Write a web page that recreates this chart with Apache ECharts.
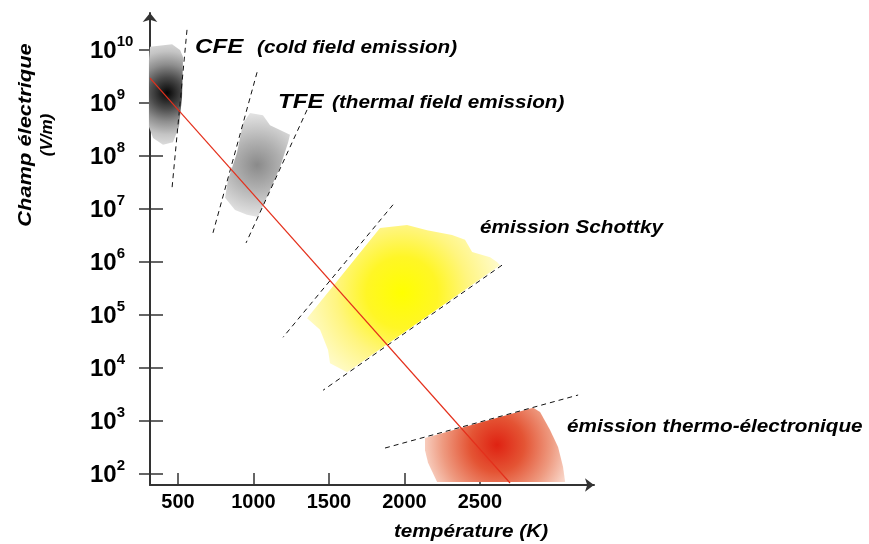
<!DOCTYPE html>
<html>
<head>
<meta charset="utf-8">
<script src="https://cdn.jsdelivr.net/npm/echarts@6/dist/echarts.min.js"></script>
<style>
  html, body { margin: 0; padding: 0; background: #fff; }
  #chart { width: 869px; height: 544px; }
</style>
</head>
<body>
<div id="chart"></div>
<script>
// axes: temperature (K) and log10 of the electric field (V/m)
const temperatureTicks = [500, 1000, 1500, 2000, 2500];
const fieldExponents = [2, 3, 4, 5, 6, 7, 8, 9, 10];

// emission regions, points are [temperature, log10(E)]
const cfeOutline = [[315, 10.06], [461, 10.11], [514, 10.0], [534, 9.87], [527, 9.11], [507, 8.55], [467, 8.26], [401, 8.21], [335, 8.34], [308, 8.55], [308, 9.8]];
const cfeCenter = [428, 9.19];
const tfeOutline = [[977, 8.81], [1063, 8.77], [1110, 8.58], [1242, 8.40], [1229, 8.25], [1176, 7.79], [1090, 7.23], [1030, 6.85], [957, 6.89], [878, 6.98], [812, 7.21], [832, 7.55], [891, 8.06], [931, 8.62]];
const tfeCenter = [1024, 7.83];
const schottkyOutline = [[1838, 6.64], [2017, 6.70], [2150, 6.60], [2315, 6.51], [2401, 6.42], [2448, 6.19], [2567, 6.09], [2613, 6.00], [2633, 5.94], [1620, 3.92], [1507, 4.09], [1494, 4.34], [1441, 4.72], [1355, 4.94]];
const schottkyCenter = [1984, 5.42];
const thermoOutline = [[2136, 2.68], [2852, 3.25], [2898, 3.17], [2964, 2.83], [3017, 2.51], [3050, 2.13], [3064, 1.85], [2216, 1.85], [2156, 2.21], [2136, 2.45]];
const thermoCenter = [2613, 2.55];

// dashed boundaries
const cfeGuide = [[560, 10.38], [461, 7.40]];
const tfeGuideLeft = [[1024, 9.58], [732, 6.55]];
const tfeGuideRight = [[1355, 8.87], [951, 6.36]];
const schottkyGuideTop = [[1924, 7.08], [1196, 4.58]];
const schottkyGuideBottom = [[2646, 5.94], [1461, 3.58]];
const thermoGuide = [[1871, 2.49], [3150, 3.49]];

// red transition line
const transitionLine = [[315, 9.47], [2699, 1.83]];

const FONT = '"Liberation Sans", Arial, sans-serif';

const chart = echarts.init(document.getElementById('chart'));

function blob(outline, center, stops) {
  return {
    type: 'custom',
    z: 1,
    silent: true,
    data: [center],
    renderItem: function (params, api) {
      const pts = outline.map(p => api.coord(p));
      const c = api.coord(center);
      let r = 0;
      pts.forEach(p => { r = Math.max(r, Math.hypot(p[0] - c[0], p[1] - c[1])); });
      return {
        type: 'polygon',
        shape: { points: pts },
        style: {
          fill: {
            type: 'radial', x: c[0], y: c[1], r: r, global: true,
            colorStops: stops.map(s => ({ offset: s[0], color: s[1] }))
          }
        }
      };
    }
  };
}

function dashed(points) {
  return {
    type: 'line',
    z: 3,
    data: points,
    symbol: 'none',
    silent: true,
    lineStyle: { color: '#111', width: 1, type: [5, 4] }
  };
}

function note(text, x, y, size, align) {
  return {
    type: 'text', x: x, y: y, scaleX: 1.15,
    style: {
      text: text, fill: '#000', font: 'italic bold ' + size + 'px ' + FONT,
      align: align || 'left', verticalAlign: 'middle'
    }
  };
}

chart.setOption({
  animation: false,
  grid: { left: 150, right: 275, top: 13, bottom: 59 },
  xAxis: {
    type: 'value', min: 315, max: 3255,
    splitLine: { show: false },
    axisLine: { lineStyle: { color: '#333', width: 2 }, symbol: ['none', 'arrow'], symbolSize: [10, 9] },
    axisTick: { inside: true, length: 12, customValues: temperatureTicks, lineStyle: { color: '#333', width: 1.5 } },
    axisLabel: {
      customValues: temperatureTicks, margin: 7, formatter: v => String(v),
      color: '#000', fontFamily: FONT, fontWeight: 'bold', fontSize: 20
    }
  },
  yAxis: [{
    type: 'value', min: 1.7925, max: 10.698,
    splitLine: { show: false },
    axisLine: { lineStyle: { color: '#333', width: 2 }, symbol: ['none', 'arrow'], symbolSize: [11, 9] },
    axisTick: { length: 11, customValues: fieldExponents, lineStyle: { color: '#333', width: 1.5 } },
    axisLabel: {
      customValues: fieldExponents, margin: 60, align: 'left',
      formatter: v => '{b|10}{e|' + Math.round(v) + '}',
      rich: {
        b: { fontFamily: FONT, fontWeight: 'bold', fontSize: 24, color: '#000', verticalAlign: 'bottom', padding: [5, 0, 0, 0] },
        e: { fontFamily: FONT, fontWeight: 'bold', fontSize: 15, lineHeight: 15, color: '#000', verticalAlign: 'top' }
      },
      padding: [0, 0, 2, 0]
    }
  }, {
    type: 'value', min: 1.7925, max: 10.698, position: 'left',
    splitLine: { show: false },
    axisLine: { show: false },
    axisLabel: { show: false },
    axisTick: { inside: true, length: 13, customValues: fieldExponents, lineStyle: { color: '#333', width: 1.5 } }
  }],
  series: [
    blob(cfeOutline, cfeCenter, [[0, '#050505'], [0.3, '#4a4a4a'], [0.55, '#8e8e8e'], [0.8, '#c4c4c4'], [1, '#dcdcdc']]),
    blob(tfeOutline, tfeCenter, [[0, '#8a8a8a'], [0.45, '#b0b0b0'], [1, '#e4e4e4']]),
    blob(schottkyOutline, schottkyCenter, [[0, '#ffff00'], [0.35, '#fff626'], [0.65, '#fff580'], [1, '#fffbcc']]),
    blob(thermoOutline, thermoCenter, [[0, '#df2212'], [0.35, '#e45434'], [0.7, '#ee9a80'], [1, '#fadcd0']]),
    dashed(cfeGuide),
    dashed(tfeGuideLeft),
    dashed(tfeGuideRight),
    dashed(schottkyGuideTop),
    dashed(schottkyGuideBottom),
    dashed(thermoGuide),
    {
      type: 'line', z: 4, data: transitionLine, symbol: 'none', silent: true,
      lineStyle: { color: '#e4301c', width: 1.2 }
    }
  ],
  graphic: [
    note('CFE', 195, 47, 21),
    note('(cold field emission)', 257, 48, 18),
    note('TFE', 278, 102, 21),
    note('(thermal field emission)', 332, 103, 18),
    note('émission Schottky', 480, 228, 18),
    note('émission thermo-électronique', 567, 427, 18),
    note('température (K)', 471, 532, 18, 'center'),
    {
      type: 'text', x: 26, y: 135, rotation: Math.PI / 2, scaleX: 1.15,
      style: { text: 'Champ électrique', fill: '#000', font: 'italic bold 19px ' + FONT, align: 'center', verticalAlign: 'middle' }
    },
    {
      type: 'text', x: 47, y: 135, rotation: Math.PI / 2,
      style: { text: '(V/m)', fill: '#000', font: 'italic bold 17px ' + FONT, align: 'center', verticalAlign: 'middle' }
    }
  ]
});
</script>
</body>
</html>
